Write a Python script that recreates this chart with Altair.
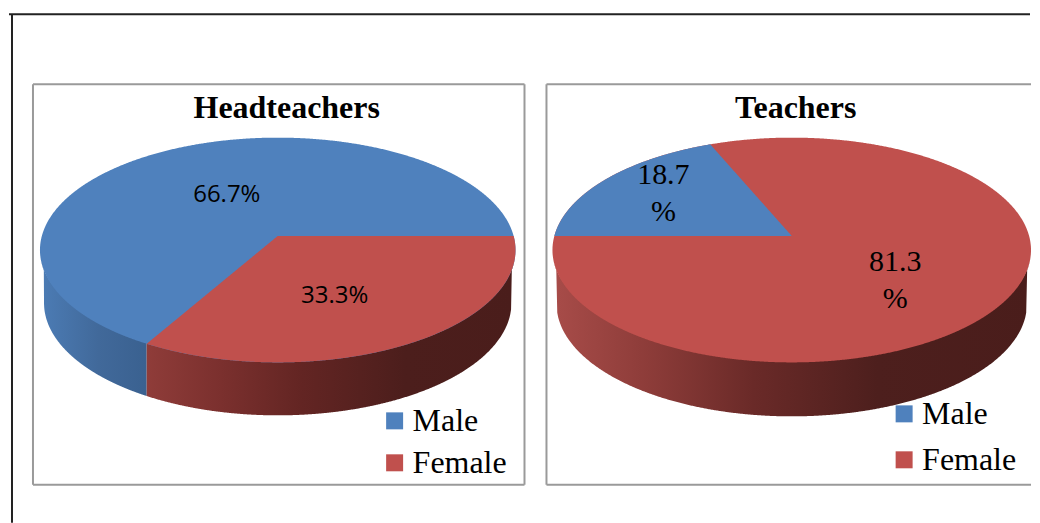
import altair as alt
import numpy as np
import pandas as pd

# ---- values ----
categories = ["Male", "Female"]
headteacher_values = [66.7, 33.3]
teacher_values = [18.7, 81.3]
headteacher_labels = ["66.7%", "33.3%"]
teacher_labels = ["18.7\n%", "81.3\n%"]
colors = ["#4f81bd", "#c0504d"]

VERTEX = 0.125   # perspective offset of the pie's tip inside the top ellipse


def end_of_ray(angle):
    d = np.array([np.cos(angle), np.sin(angle)])
    b = d[1] * VERTEX
    t = -b + np.sqrt(b * b - (VERTEX ** 2 - 1))
    return d, d * t + np.array([0, VERTEX])


def ellipse_frame(series):
    xs = np.cos(np.linspace(np.pi, 0, 700))
    c = np.sqrt(np.clip(1 - xs ** 2, 0, 1))
    return pd.DataFrame({"x": xs, "y": c, "y2": -c, "series": series})


def slice_frame(series, start_deg, percent):
    """Slice running clockwise from start_deg over percent of the circle."""
    a1 = np.radians(start_deg)
    a2 = np.radians(start_deg - percent * 3.6)
    d1, p1 = end_of_ray(a1)
    d2, p2 = end_of_ray(a2)
    xs = np.unique(np.concatenate([np.cos(np.linspace(np.pi, 0, 900)), [0, p1[0], p2[0]]]))
    rows = []
    for x in xs:
        c = np.sqrt(max(1 - x ** 2, 0))
        lo, hi = -c, c
        if abs(d1[0]) > 1e-9:
            b = VERTEX + d1[1] * x / d1[0]
            if d1[0] > 0:
                hi = min(hi, b)
            else:
                lo = max(lo, b)
        if abs(d2[0]) > 1e-9:
            b = VERTEX + d2[1] * x / d2[0]
            if d2[0] > 0:
                lo = max(lo, b)
            else:
                hi = min(hi, b)
        if hi >= lo:
            rows.append((x, hi, lo, series))
    return pd.DataFrame(rows, columns=["x", "y", "y2", "series"])


def wall_frame(x_from, x_to, depth, inner):
    xs = np.linspace(x_from, x_to, 500)
    top = -np.sqrt(np.clip(1 - xs ** 2, 0, 1))
    low = -depth - np.sqrt(np.clip(1 - (xs / inner) ** 2, 0, 1))
    low = np.where(np.abs(xs) <= inner, np.minimum(low, top), top)
    # the wall's upper edge runs a little under the top surface, so no seam shows
    return pd.DataFrame({"x": xs, "y": top * 0.96, "y2": low})


def gradient(stops):
    return alt.Gradient(
        gradient="linear", x1=0, x2=1, y1=0, y2=0,
        stops=[alt.GradientStop(offset=o, color=c) for o, c in stops],
    )


def rule(x1, x2, y1, y2, color, width):
    enc = {"x": alt.value(x1), "y": alt.value(y1)}
    if x2 != x1:
        enc["x2"] = alt.value(x2)
    if y2 != y1:
        enc["y2"] = alt.value(y2)
    return alt.Chart(pd.DataFrame({"a": [0]})).mark_rule(color=color, strokeWidth=width).encode(**enc)


def panel(title, title_x, w, h, cx, rx, values_labels, base, wedge, walls,
          legend_x, legend_y, row_pad, label_style, rules):
    x_scale = alt.Scale(domain=[(0 - cx) / rx, (w - cx) / rx], nice=False, zero=False)
    cy, ry = 166.0, 112.5
    y_scale = alt.Scale(domain=[(cy - h) / ry, cy / ry], nice=False, zero=False)
    X = alt.X("x:Q", scale=x_scale, axis=None)
    Y = alt.Y("y:Q", scale=y_scale, axis=None)
    color = alt.Color(
        "series:N",
        scale=alt.Scale(domain=categories, range=colors),
        sort=categories,
        legend=alt.Legend(
            title=None, orient="none", legendX=legend_x, legendY=legend_y, padding=0,
            symbolType="square", symbolSize=289, symbolStrokeWidth=0, symbolOffset=0,
            labelFont="Liberation Serif", labelFontSize=32, labelColor="#000000",
            labelOffset=2, rowPadding=row_pad, labelLimit=200,
        ),
    )
    layers = list(rules)
    for frame, fill in walls:
        layers.append(alt.Chart(frame).mark_area(color=fill, interpolate="linear", line=False)
                      .encode(x=X, y=Y, y2="y2:Q"))
    layers.append(alt.Chart(base).mark_area().encode(x=X, y=Y, y2="y2:Q", color=color))
    layers.append(alt.Chart(wedge).mark_area().encode(x=X, y=Y, y2="y2:Q", color=color))
    for text, px, py in values_labels:
        layers.append(
            alt.Chart(pd.DataFrame({"label": [text]}))
            .mark_text(lineBreak="\n", baseline="middle", align="center", color="#000000", **label_style)
            .encode(text="label:N", x=alt.value(px), y=alt.value(py))
        )
    layers.append(
        alt.Chart(pd.DataFrame({"label": [title]}))
        .mark_text(font="Liberation Serif", fontSize=32, fontWeight="bold", color="#000000",
                   baseline="middle", align="center")
        .encode(text="label:N", x=alt.value(title_x), y=alt.value(24))
    )
    return alt.layer(*layers).properties(width=w, height=h)


W1, W2, H = 492, 485, 401
frame_gray = "#9a9a9a"
black = "#222222"

# Headteachers
_, end1 = end_of_ray(np.radians(-headteacher_values[1] * 3.6))
depth1 = 53 / 112.5
left = panel(
    "Headteachers", 254, W1, H, 245, 238,
    [(headteacher_labels[0], 194, 111), (headteacher_labels[1], 302, 212)],
    ellipse_frame("Male"),
    slice_frame("Female", 0, headteacher_values[1]),
    [
        (wall_frame(-1, end1[0], depth1, 0.983),
         gradient([(0, "#4c7cb5"), (0.55, "#41699a"), (1, "#3a6190")])),
        (wall_frame(end1[0], 1, depth1, 0.983),
         gradient([(0, "#8f3c39"), (0.2, "#7b302e"), (0.42, "#632523"), (0.7, "#4c1e1c"), (1, "#4a1d1b")])),
    ],
    346, 321, 10,
    dict(font="Open Sans", fontSize=24),
    [
        rule(-24, 998, -70, -70, black, 2),
        rule(-21, -21, -70, 439, black, 2),
        rule(0, W1, 0, 0, frame_gray, 2),
        rule(0, W1, H, H, frame_gray, 2),
        rule(0, 0, 0, H, frame_gray, 2),
        rule(W1, W1, 0, H, frame_gray, 2),
    ],
)

# Teachers
depth2 = 54 / 112.5
right = panel(
    "Teachers", 249.5, W2, H, 245.5, 239.5,
    [(teacher_labels[0], 117, 91), (teacher_labels[1], 349, 178)],
    ellipse_frame("Female"),
    slice_frame("Male", 180, teacher_values[0]),
    [
        (wall_frame(-1, 1, depth2, 0.983),
         gradient([(0, "#a84c49"), (0.2, "#8d3c39"), (0.42, "#6a2a28"), (0.68, "#4d1f1d"), (1, "#4a1d1b")])),
    ],
    342, 314, 14,
    dict(font="Liberation Serif", fontSize=30, lineHeight=37),
    [
        rule(0, W2, 0, 0, frame_gray, 2),
        rule(0, W2, H, H, frame_gray, 2),
        rule(0, 0, 0, H, frame_gray, 2),
    ],
)

chart = (
    alt.hconcat(left, right, spacing=22, bounds="flush")
    .resolve_scale(color="independent", x="independent", y="independent")
    .properties(padding={"left": 0, "top": 5, "right": 0, "bottom": 0})
    .configure_view(stroke=None)
)

chart.save("out.html", embed_options={"renderer": "svg", "actions": False})
